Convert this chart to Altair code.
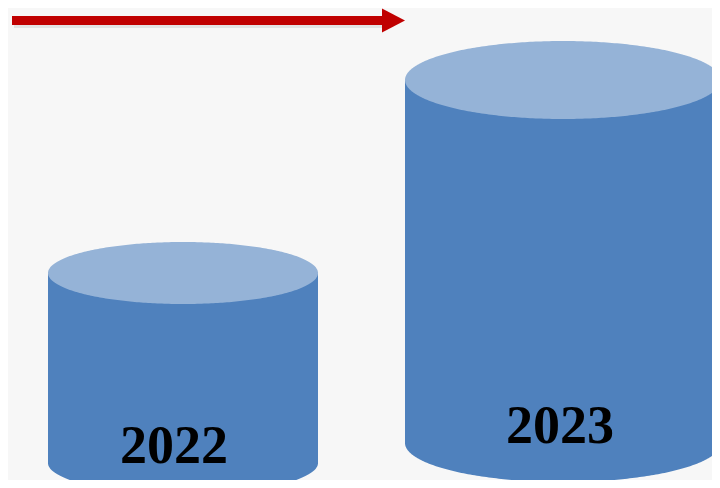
import altair as alt
import numpy as np
import pandas as pd

# ---- data ----
years = ["2022", "2023"]
values = [190, 363]          # relative cylinder heights

# ---- layout (screen geometry) ----
centers_x = [183, 563]
radii_x = [135, 158]
radii_y = [31, 39]
bases_y = [463, 443]
label_x = [174, 560]

BODY = "#4f81bd"
TOP = "#95b3d7"
BG = "#f7f7f7"

W, H = 704, 472
xs = alt.Scale(domain=[8, 8 + W], nice=False, zero=False)
ys = alt.Scale(domain=[8, 8 + H], nice=False, zero=False, reverse=True)
X = lambda f: alt.X(f, type="quantitative", scale=xs, axis=None)
Y = lambda f: alt.Y(f, type="quantitative", scale=ys, axis=None)

ell_rows = []
body_rows = []
text_rows = []
t = np.cos(np.linspace(np.pi, 0, 181))
for i, yr in enumerate(years):
    cx, rx, ry, base = centers_x[i], radii_x[i], radii_y[i], bases_y[i]
    top = base - values[i]
    body_rows.append(dict(year=yr, x=cx - rx, x2=cx + rx, y=top, y2=base))
    text_rows.append(dict(year=yr, x=label_x[i], y=base))
    for part, cy in (("bottom", base), ("top", top)):
        for tt in t:
            h = ry * np.sqrt(max(0.0, 1 - tt * tt))
            ell_rows.append(dict(id=f"{yr}-{part}", part=part, x=cx + rx * tt, y=cy - h, y2=cy + h))

ell = pd.DataFrame(ell_rows)
body = pd.DataFrame(body_rows)
txt = pd.DataFrame(text_rows)

bottom_layer = alt.Chart(ell[ell.part == "bottom"]).mark_area(color=BODY, orient="vertical", clip=True).encode(
    x=X("x"), y=Y("y"), y2="y2", detail="id:N")
body_layer = alt.Chart(body).mark_rect(color=BODY, clip=True).encode(x=X("x"), x2="x2", y=Y("y"), y2="y2")
top_layer = alt.Chart(ell[ell.part == "top"]).mark_area(color=TOP, orient="vertical", clip=True).encode(
    x=X("x"), y=Y("y"), y2="y2", detail="id:N")
text_layer = alt.Chart(txt).mark_text(
    font="Liberation Serif", fontWeight="bold", fontSize=54, color="black",
    align="center", baseline="alphabetic").encode(x=X("x"), y=Y("y"), text="year:N")

# arrow
arrow_start, arrow_neck, arrow_tip = 12, 382, 405
arrow_y, shaft_half, head_half = 20.5, 4.5, 12
shadow = alt.Chart(pd.DataFrame([dict(x=arrow_start + 2, x2=arrow_neck, y=arrow_y + shaft_half, y2=arrow_y + shaft_half + 3)])).mark_rect(
    color="#888888", opacity=0.18).encode(x=X("x"), x2="x2", y=Y("y"), y2="y2")
shaft = alt.Chart(pd.DataFrame([dict(x=arrow_start, x2=arrow_neck + 1, y=arrow_y - shaft_half, y2=arrow_y + shaft_half)])).mark_rect(
    color="#c00000").encode(x=X("x"), x2="x2", y=Y("y"), y2="y2")
head = alt.Chart(pd.DataFrame([dict(x=arrow_neck, y=arrow_y - head_half, y2=arrow_y + head_half),
                               dict(x=arrow_tip, y=arrow_y, y2=arrow_y)])).mark_area(
    color="#c00000", orient="vertical").encode(x=X("x"), y=Y("y"), y2="y2")

chart = alt.layer(bottom_layer, body_layer, top_layer, text_layer, shadow, shaft, head).properties(
    width=W, height=H, background=BG, padding=0, autosize=alt.AutoSizeParams(type="none")
).configure_view(stroke=None)

chart.save("out.html", embed_options={"renderer": "svg", "actions": False})
